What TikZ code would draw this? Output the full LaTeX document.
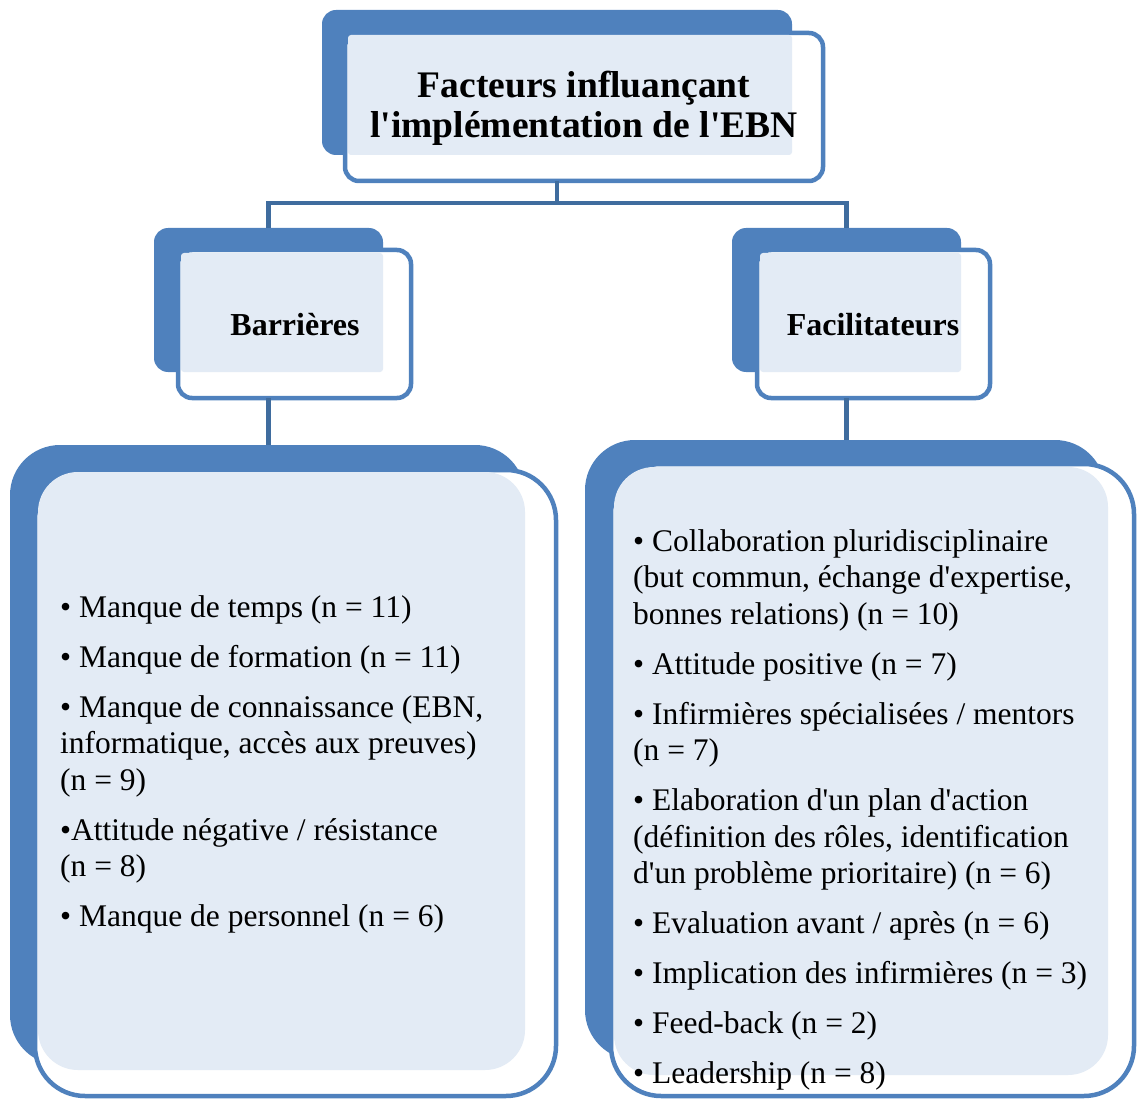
\documentclass[tikz,border=0pt]{standalone}
\usepackage{fontspec}
\setmainfont{Liberation Serif}[Ligatures=TeXOff]
\definecolor{ablue}{HTML}{4F81BD}
\definecolor{lblue}{HTML}{3F6C9E}
\definecolor{pblue}{HTML}{E3EBF5}
\begin{document}
\begin{tikzpicture}[x=1pt,y=-1pt,
  back/.style={fill=ablue, inner sep=0pt, outer sep=0pt},
  front/.style={draw=ablue, line width=4.5pt, fill=white, inner sep=0pt, outer sep=0pt},
  patt/.style={fill=pblue, inner sep=0pt, outer sep=0pt},
  conn/.style={draw=lblue, line width=4.5pt},
  title/.style={font=\fontsize{37.5}{40}\selectfont\bfseries, align=center, inner sep=0pt},
  sub/.style={font=\fontsize{32}{38}\selectfont\bfseries, inner sep=0pt},
  body/.style={font=\fontsize{31.5}{36.5}\selectfont, align=left, inner sep=0pt, anchor=north west}]
\useasboundingbox (0,0) rectangle (1138,1099);

% top box
\node[back, rounded corners=14pt, minimum width=470pt, minimum height=145pt] (topB) at (557,82.5) {};
\node[front, rounded corners=14pt, minimum width=478pt, minimum height=148pt] (topF) at (584,107) {};
\node[patt, rounded corners=3pt, minimum width=444pt, minimum height=120pt] (topP) at (570,95) {};
\node[title] (topT) at (584,108) {Facteurs influançant\\l'implémentation de l'EBN};

% Barrieres
\node[back, rounded corners=14pt, minimum width=229pt, minimum height=144pt] (barB) at (268.5,300) {};
\node[front, rounded corners=14pt, minimum width=233pt, minimum height=148pt] (barF) at (294.5,324) {};
\node[patt, rounded corners=3pt, minimum width=202pt, minimum height=119pt] (barP) at (282,312.5) {};
\node[sub] (barT) at (295,325) {Barrières};

% Facilitateurs
\node[back, rounded corners=14pt, minimum width=229pt, minimum height=144pt] (facB) at (846.5,300) {};
\node[front, rounded corners=14pt, minimum width=233pt, minimum height=148pt] (facF) at (873.5,324) {};
\node[patt, rounded corners=3pt, minimum width=201pt, minimum height=119pt] (facP) at (860.5,312.5) {};
\node[sub] (facT) at (873,325) {Facilitateurs};

% barrier list
\node[back, rounded corners=50pt, minimum width=515pt, minimum height=620pt] (blB) at (267.5,755) {};
\node[front, rounded corners=50pt, minimum width=521pt, minimum height=626pt] (blF) at (295.5,783) {};
\node[patt, rounded corners=40pt, minimum width=487pt, minimum height=598pt] (blP) at (281.5,771) {};
\node[body] (blT) at (60,595) {• Manque de temps (n = 11)\\[13.5pt]
• Manque de formation (n = 11)\\[13.5pt]
• Manque de connaissance (EBN,\\
informatique, accès aux preuves)\\
(n = 9)\\[13.5pt]
•Attitude négative / résistance\\
(n = 8)\\[13.5pt]
• Manque de personnel (n = 6)};

% facilitator list
\node[back, rounded corners=50pt, minimum width=520pt, minimum height=620pt] (flB) at (845,750) {};
\node[front, rounded corners=50pt, minimum width=523pt, minimum height=632pt] (flF) at (872.5,780) {};
\node[patt, rounded corners=40pt, minimum width=494pt, minimum height=608pt] (flP) at (861,771) {};
\node[body] (flT) at (633,529) {• Collaboration pluridisciplinaire\\
(but commun, échange d'expertise,\\
bonnes relations) (n = 10)\\[13.5pt]
• Attitude positive (n = 7)\\[13.5pt]
• Infirmières spécialisées / mentors\\
(n = 7)\\[13.5pt]
• Elaboration d'un plan d'action\\
(définition des rôles, identification\\
d'un problème prioritaire) (n = 6)\\[13.5pt]
• Evaluation avant / après (n = 6)\\[13.5pt]
• Implication des infirmières (n = 3)\\[13.5pt]
• Feed-back (n = 2)\\[13.5pt]
• Leadership (n = 8)};

% connectors
\coordinate (j) at (557,203);
\draw[conn] (topB.south |- topF.south) -- (j);
\draw[conn] (barB.north) |- (j) -| (facB.north);
\draw[conn] (barB.south |- barF.south) -- (barB.south |- blB.north);
\draw[conn] (facB.south |- facF.south) -- (facB.south |- flB.north);
\end{tikzpicture}
\end{document}
